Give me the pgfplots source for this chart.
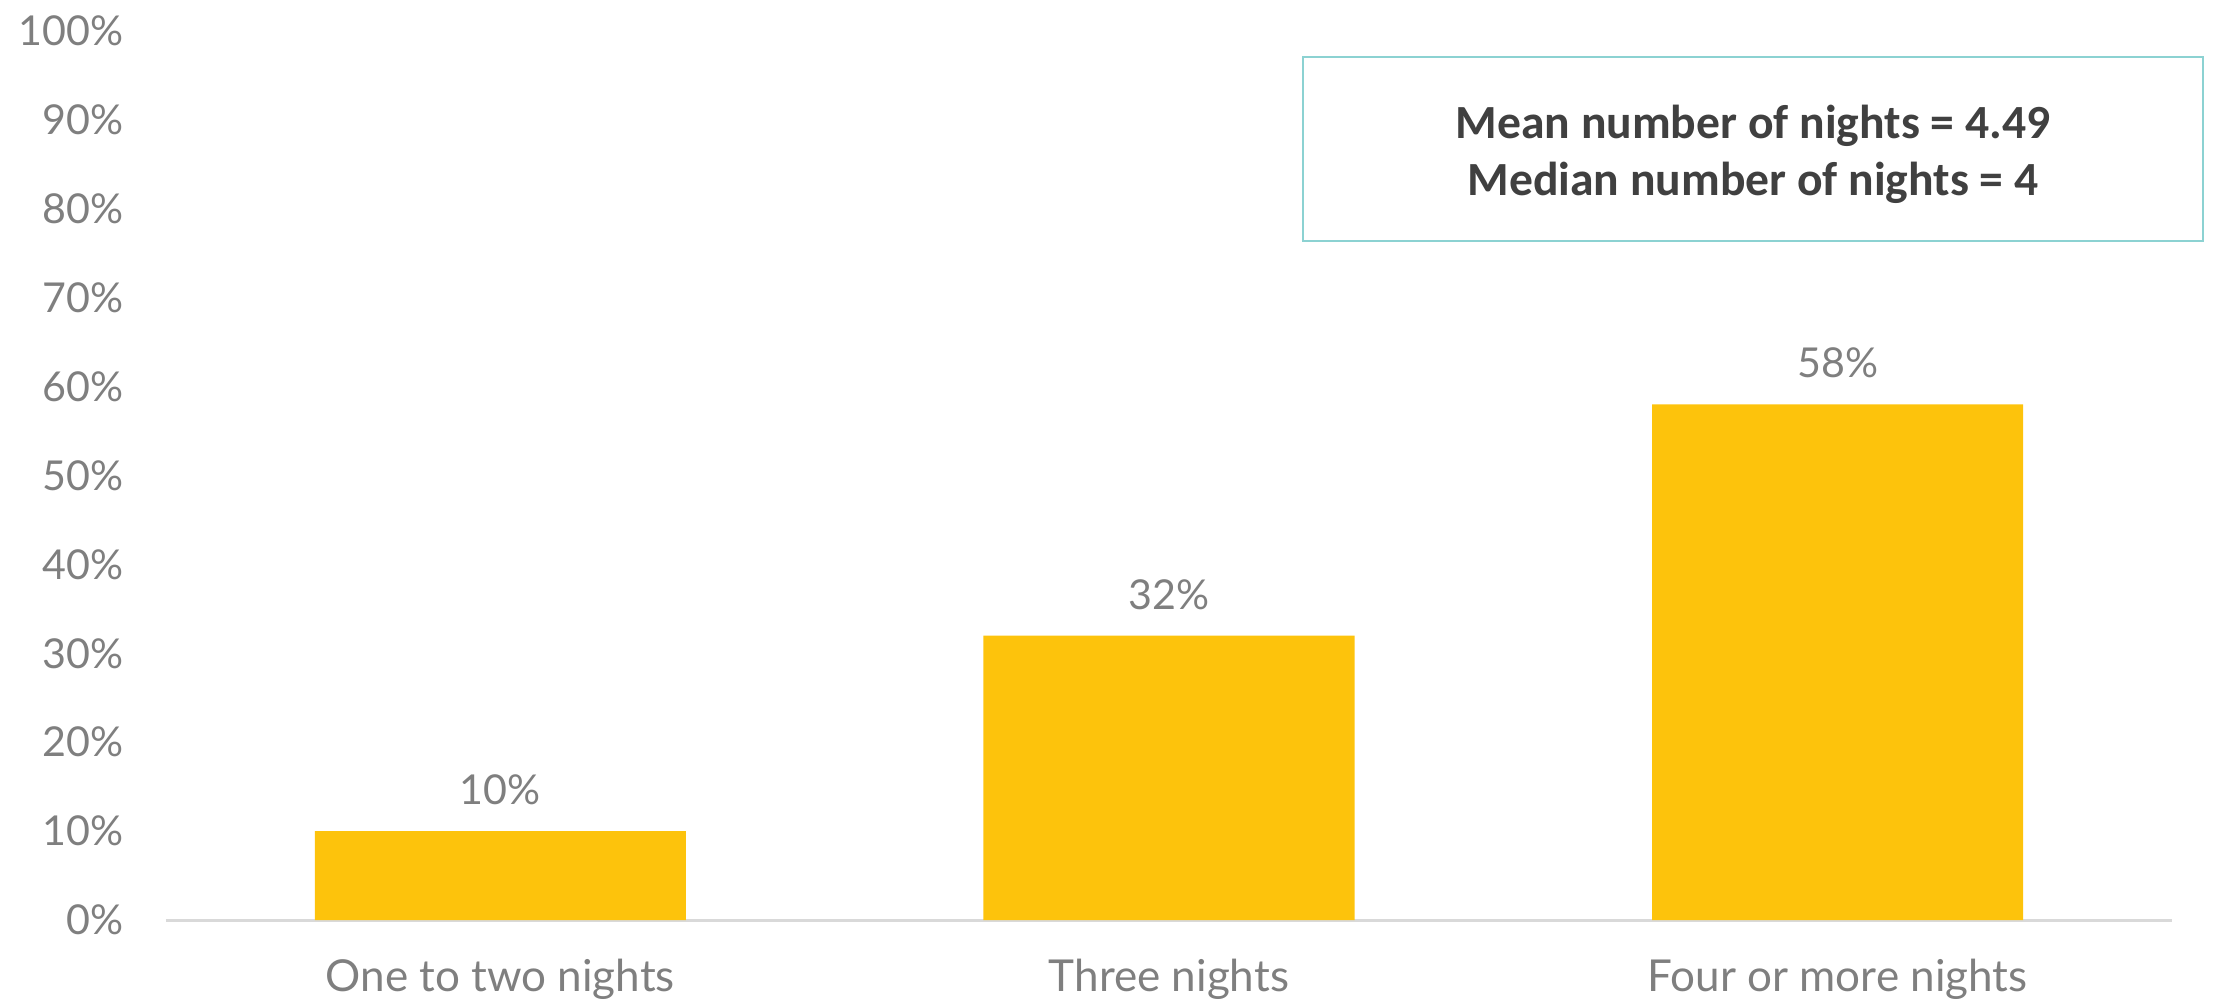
\documentclass[border=0pt]{standalone}
\usepackage{pgfplots}
\pgfplotsset{compat=1.18}
\usepackage{fontspec}
\setmainfont{Lato}
\newfontfamily\boxfont{Carlito}
\definecolor{bargold}{RGB}{253,195,12}
\definecolor{txtgray}{RGB}{127,127,127}
\definecolor{axgray}{RGB}{217,217,217}
\definecolor{boxtxt}{RGB}{64,64,64}
\definecolor{boxline}{RGB}{140,210,210}
\begin{document}
\begin{tikzpicture}
\useasboundingbox (-41.5pt,-20.25pt) rectangle (513.25pt,230pt);
\begin{axis}[
  scale only axis,
  width=501.5pt, height=222.25pt,
  xmin=-0.5, xmax=2.5, ymin=0, ymax=100,
  axis y line*=left,
  y axis line style={draw=none},
  axis x line*=bottom,
  x axis line style={draw=axgray, line width=0.75pt, -},
  xtick={0,1,2},
  xticklabels={One to two nights, Three nights, Four or more nights},
  xtick style={draw=none},
  ytick={0,10,...,100},
  yticklabel={\pgfmathprintnumber{\tick}\%},
  /pgf/number format/assume math mode=true,
  ytick style={draw=none},
  yticklabel style={font=\fontsize{10.3}{12}\selectfont, text=txtgray, inner sep=1pt, xshift=-9.5pt},
  xticklabel style={font=\fontsize{11}{13}\selectfont, text=txtgray, yshift=-2pt},
  ybar, bar width=0.555,
  nodes near coords={\pgfmathprintnumber{\pgfplotspointmeta}\%},
  nodes near coords style={font=\fontsize{10.3}{12}\selectfont, text=txtgray, yshift=3pt},
  clip=false,
]
\addplot[fill=bargold, draw=none] coordinates {(0,10) (1,32) (2,58)};
\end{axis}
\draw[boxline, line width=0.5pt, fill=white] (284.25pt,169.75pt) rectangle (509.25pt,215.75pt);
\node[font=\boxfont\bfseries\fontsize{11.9}{14.2}\selectfont, text=boxtxt, align=center] at (396.75pt,191.4pt) {Mean number of nights = 4.49\\Median number of nights = 4};
\end{tikzpicture}
\end{document}
